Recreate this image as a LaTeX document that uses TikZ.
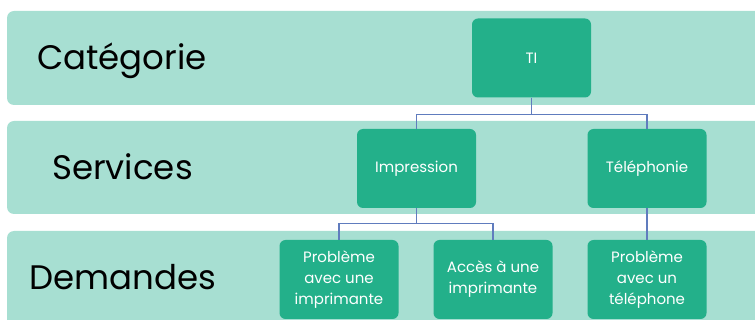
\documentclass[tikz,border=0pt]{standalone}
\usepackage{fontspec}
\setmainfont{Poppins}
\usetikzlibrary{positioning}
\definecolor{fond}{RGB}{167,223,210}
\definecolor{vert}{RGB}{35,176,138}
\definecolor{trait}{RGB}{96,124,190}

\begin{document}
\begin{tikzpicture}[x=1pt,y=-1pt,
  boite/.style={rectangle,rounded corners=6pt,fill=vert,text=white,
    minimum width=119pt,minimum height=79pt,align=center,inner sep=2pt,
    font=\fontsize{15}{21}\selectfont},
  niveau/.style={anchor=base west,inner sep=0pt,font=\fontsize{34}{40}\selectfont},
  lien/.style={draw=trait,line width=1.1pt}]
\clip (0,0) rectangle (755,320);
% bandes
\foreach \h/\b in {11/105,121/214,231/340}
\fill[fond,rounded corners=7pt](7,\h)rectangle(800,\b);
\node[niveau] (cat) at (37,70) {Catégorie};
\node[niveau] (serv) at (52,180) {Services};
\node[niveau] (dem) at (29,290) {Demandes};
% boites
\node[boite] (ti) at (531.5,58) {TI};
\node[boite] (imp) at (416.5,168.5) {Impression};
\node[boite] (tel) at (647,168.5) {Téléphonie};
\node[boite] (pbimp) at (339,279.5) {Problème\\avec une\\imprimante};
\node[boite] (acces) at (493,279.5) {Accès à une\\imprimante};
\node[boite] (pbtel) at (647,279.5) {Problème\\avec un\\téléphone};
% liens
\draw[lien] (ti.south) -- ++(0,17) -| (imp.north);
\draw[lien] (ti.south) -- ++(0,17) -| (tel.north);
\draw[lien] (imp.south) -- ++(0,15) -| (pbimp.north);
\draw[lien] (imp.south) -- ++(0,15) -| (acces.north);
\draw[lien] (tel.south) -- (pbtel.north);
\end{tikzpicture}
\end{document}
